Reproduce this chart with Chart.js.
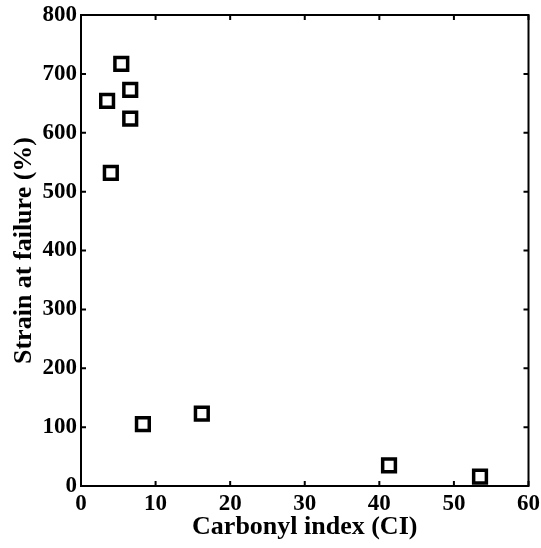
<!DOCTYPE html>
<html>
<head>
<meta charset="utf-8">
<script src="https://cdn.jsdelivr.net/npm/chart.js@4/dist/chart.umd.min.js"></script>
<style>
  html, body { margin: 0; padding: 0; background: #fff; }
  #wrap { width: 541px; height: 548px; }
</style>
</head>
<body>
<div id="wrap"><canvas id="strainChart"></canvas></div>
<script>
// Carbonyl index vs strain at failure
const carbonylIndex = [3.5, 5.4, 6.6, 6.6, 4.0, 8.3, 16.2, 41.3, 53.5];
const strainAtFailure = [654, 717, 673, 624, 532, 105, 123, 35, 16];
const xTicks = [0, 10, 20, 30, 40, 50, 60];
const yTicks = [0, 100, 200, 300, 400, 500, 600, 700, 800];

const points = carbonylIndex.map((x, i) => ({ x: x, y: strainAtFailure[i] }));

// box frame with inward tick marks on all four sides
const frameTicks = {
  id: 'frameTicks',
  afterDraw(chart) {
    const { ctx, chartArea: a, scales } = chart;
    const len = 5;
    ctx.save();
    ctx.strokeStyle = '#000';
    ctx.lineWidth = 2;
    ctx.strokeRect(a.left, a.top, a.right - a.left, a.bottom - a.top);
    ctx.beginPath();
    xTicks.forEach((v) => {
      const px = scales.x.getPixelForValue(v);
      ctx.moveTo(px, a.bottom);
      ctx.lineTo(px, a.bottom - len);
      ctx.moveTo(px, a.top);
      ctx.lineTo(px, a.top + len);
    });
    yTicks.forEach((v) => {
      const py = scales.y.getPixelForValue(v);
      ctx.moveTo(a.left, py);
      ctx.lineTo(a.left + len, py);
      ctx.moveTo(a.right, py);
      ctx.lineTo(a.right - len, py);
    });
    ctx.stroke();
    ctx.restore();
  },
};

const tickFont = { family: '"Liberation Serif", "Times New Roman", serif', size: 23, weight: 'bold' };
const titleFont = { family: '"Liberation Serif", "Times New Roman", serif', size: 26, weight: 'bold' };

new Chart(document.getElementById('strainChart').getContext('2d'), {
  type: 'scatter',
  data: {
    datasets: [
      {
        data: points,
        pointStyle: 'rect',
        pointRadius: 9,
        pointHoverRadius: 9,
        pointBorderWidth: 3.5,
        pointBorderColor: '#000',
        pointBackgroundColor: 'rgba(0,0,0,0)',
        showLine: false,
      },
    ],
  },
  options: {
    responsive: true,
    maintainAspectRatio: false,
    animation: false,
    layout: { padding: { top: 15, right: 10, left: 0, bottom: 0 } },
    plugins: {
      legend: { display: false },
      tooltip: { enabled: false },
    },
    scales: {
      x: {
        type: 'linear',
        min: 0,
        max: 60,
        afterBuildTicks: (scale) => {
          scale.ticks = xTicks.map((v) => ({ value: v }));
        },
        afterFit: (scale) => {
          scale.height = 62;
          scale.paddingLeft = 0;
          scale.paddingRight = 0;
        },
        grid: { display: false, drawTicks: false },
        border: { display: false },
        ticks: { color: '#000', font: tickFont, padding: 4, maxRotation: 0 },
        title: {
          display: true,
          text: 'Carbonyl index (CI)',
          color: '#000',
          font: titleFont,
          padding: { top: 0, bottom: 5 },
        },
      },
      y: {
        type: 'linear',
        min: 0,
        max: 800,
        afterBuildTicks: (scale) => {
          scale.ticks = yTicks.map((v) => ({ value: v }));
        },
        afterFit: (scale) => {
          scale.width = 81;
          scale.paddingTop = 0;
          scale.paddingBottom = 0;
        },
        grid: { display: false, drawTicks: false },
        border: { display: false },
        ticks: { color: '#000', font: tickFont, padding: 4 },
        title: {
          display: true,
          text: 'Strain at failure (%)',
          color: '#000',
          font: titleFont,
          padding: { top: 9, bottom: 0 },
        },
      },
    },
  },
  plugins: [frameTicks],
});
</script>
</body>
</html>
